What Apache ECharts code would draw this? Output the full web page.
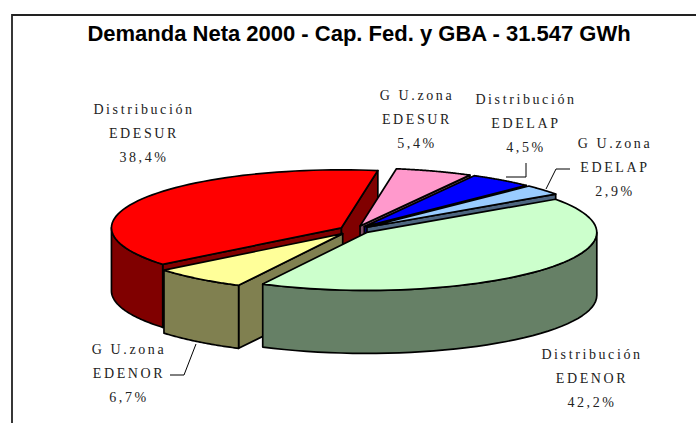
<!DOCTYPE html>
<html><head><meta charset="utf-8">
<style>
html,body{margin:0;padding:0;background:#fff}
#c{width:696px;height:423px}
#c text.sp{letter-spacing:2.6px}
</style>
<script src="https://cdn.jsdelivr.net/npm/echarts@6/dist/echarts.min.js"></script>
</head><body><div id="c"></div>
<script>
const titleText = 'Demanda Neta 2000 - Cap. Fed. y GBA - 31.547 GWh';
// clockwise from the left edge of the red slice
const categories = ['Distribución\nEDESUR','G U.zona\nEDESUR','Distribución\nEDELAP','G U.zona\nEDELAP','Distribución\nEDENOR','G U.zona\nEDENOR'];
const values = [38.4,5.4,4.5,2.9,42.2,6.7];
const valueLabels = ['38,4%','5,4%','4,5%','2,9%','42,2%','6,7%'];
const topColors = ['#ff0000','#ff99cc','#0000ff','#99ccff','#ccffcc','#ffff99'];
const sideColors = ['#800000','#804d66','#000080','#4d6680','#668066','#808050'];
const drawOrder = [0,1,2,3,5,4];

const cx=355, cy=229.8, rx=230, ry=58, depth=63, explode=0.068, startDeg=141;
const explodeBySlice = [1,1,1,1,1,1.25];
const labelPos = [[144,109],[417,95],[526,99],[615,143],[592,354],[129,349]];
const leaders = {
  2:[[506,177],[526,177],[526,163]],
  3:[[570,169],[556,169],[546,189]],
  5:[[170,375],[184,375],[196,344]]
};
const total = values.reduce((a,b)=>a+b,0);
const rad = d=>d*Math.PI/180;
let acc = startDeg;
const spans = values.map(v=>{const s=acc; acc+=v/total*360; return [s,acc];});

function renderSlice(params, api){
  const i = drawOrder[params.dataIndex];
  const [t0,t1] = spans[i];
  const mid = rad((t0+t1)/2);
  const e = explode*explodeBySlice[i];
  const ax = cx+e*rx*Math.cos(mid), ay = cy+e*ry*Math.sin(mid);
  const P = t=>[ax+rx*Math.cos(rad(t)), ay+ry*Math.sin(rad(t))];
  const down = p=>[p[0],p[1]+depth];
  const line = {stroke:'#000',lineWidth:1.7,lineJoin:'round'};
  const children=[];
  const poly=(pts,fill)=>children.push({type:'polygon',shape:{points:pts},style:Object.assign({fill},line)});
  const side=sideColors[i];
  const a=[ax,ay];
  // radial faces, only where the body lies above the edge
  if(Math.cos(rad(t0))<=0) poly([a,P(t0),down(P(t0)),down(a)],side);
  if(Math.cos(rad(t1))>0) poly([a,P(t1),down(P(t1)),down(a)],side);
  // outer wall, only the part facing the viewer
  for(const k of [0,360]){
    const w0=Math.max(t0,k), w1=Math.min(t1,k+180);
    if(w1>w0){
      const top=[],bot=[];
      for(let t=w0;t<=w1+1e-6;t+=(w1-w0)/40){const p=P(t);top.push(p);bot.unshift(down(p));}
      poly(top.concat(bot),side);
    }
  }
  // top
  const pts=[a];
  for(let t=t0;t<=t1+1e-6;t+=(t1-t0)/60) pts.push(P(t));
  poly(pts,topColors[i]);
  // leader
  if(leaders[i]) children.push({type:'polyline',shape:{points:leaders[i]},style:{fill:null,stroke:'#000',lineWidth:1}});
  // label
  const lp=labelPos[i];
  const lines=categories[i].split('\n').concat(valueLabels[i]);
  lines.forEach((s,n)=>children.push({type:'text',style:{x:lp[0],y:lp[1]+n*24,text:s,fill:'#222',
    font:'14px "Liberation Serif"',align:'center',verticalAlign:'middle'}}));
  return {type:'group',children};
}

const chart = echarts.init(document.getElementById('c'),null,{renderer:'svg'});
chart.setOption({
  animation:false,
  backgroundColor:'#fff',
  title:{text:titleText,left:354,top:17,textAlign:'center',
    textStyle:{fontFamily:'Liberation Sans',fontWeight:'bold',fontSize:22,color:'#000'}},
  graphic:[{type:'polyline',silent:true,shape:{points:[[12,423],[12,15],[696,15]]},style:{fill:null,stroke:'#222',lineWidth:1.8}}],
  series:[{type:'custom',coordinateSystem:'none',renderItem:renderSlice,
    data:drawOrder.map(i=>({name:categories[i],value:values[i]}))}]
});
// wide letter spacing of the slice labels
document.querySelectorAll('#c svg text').forEach(t=>{ if((t.getAttribute('style')||'').includes('Serif')) t.setAttribute('class','sp'); });
</script></body></html>
